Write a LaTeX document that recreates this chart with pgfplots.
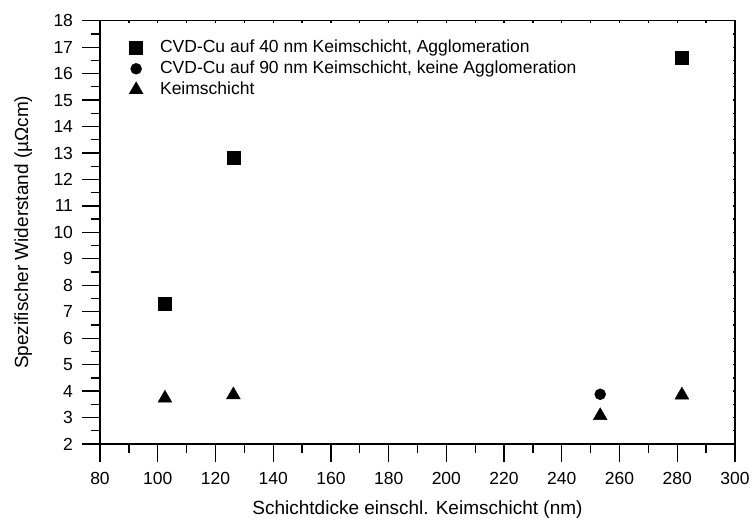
\documentclass[border=0pt]{standalone}
\usepackage{fontspec}
\setmainfont{Liberation Sans}
\usepackage{pgfplots}
\pgfplotsset{compat=1.18}

\begin{document}
\begin{tikzpicture}
\pgfplotsset{
  common/.style={
    scale only axis, width=635bp, height=423.3bp,
    xmin=80, xmax=300, ymin=2, ymax=18,
    xtick={80,100,...,300}, ytick={2,3,...,18},
    minor x tick num=1, minor y tick num=1,
    axis line style={line width=1.3bp, black},
    tick style={line width=1.3bp, black},
  },
}
% main axis: outward ticks with labels on the left and bottom
\begin{axis}[common, name=ax,
  tick pos=left, tick align=outside,
  major tick length=18bp, minor tick length=9bp,
  /pgf/number format/assume math mode=true,
  tick label style={font=\fontsize{17.5bp}{20bp}\selectfont},
  yticklabel style={xshift=-5.5bp},
  xticklabel style={yshift=-7bp},
  label style={font=\fontsize{19bp}{22bp}\selectfont},
  xlabel={Schichtdicke einschl. Keimschicht (nm)},
  ylabel={Spezifischer Widerstand (µΩcm)},
  xlabel style={at={(axis description cs:0.5,-0.154)}, anchor=center},
  ylabel style={at={(axis description cs:-0.121,0.5)}, anchor=center},
  legend style={draw=none, fill=none, at={(axis description cs:0.041,0.966)},
    anchor=north west, font=\fontsize{17.5bp}{20bp}\selectfont,
    nodes={inner sep=2bp, text height=13bp, text depth=4bp},
    /tikz/every odd column/.append style={column sep=15bp}},
  legend cell align=left,
]
\addplot[only marks, mark=square*, mark size=6.5bp, black]
  coordinates {(102.5,7.32) (126.2,12.84) (281.6,16.62)};
\addlegendentry{CVD-Cu auf 40 nm Keimschicht, Agglomeration}
\addplot[only marks, mark=*, mark size=5.5bp, black]
  coordinates {(253.3,3.88)};
\addlegendentry{CVD-Cu auf 90 nm Keimschicht, keine Agglomeration}
\addplot[only marks, mark=triangle*, mark size=8bp, black]
  coordinates {(102.5,3.73) (126.2,3.855) (253.3,3.07) (281.6,3.85)};
\addlegendentry{Keimschicht}
\end{axis}
% mirrored tiny inward ticks on the top and right
\begin{axis}[common,
  tick pos=right, tick align=inside,
  major tick length=2.5bp, minor tick length=2.5bp,
  xticklabels={}, yticklabels={},
]
\end{axis}
\path (ax.south west) ++(-100bp,-80bp) rectangle ([shift={(19bp,20.7bp)}]ax.north east);
\end{tikzpicture}
\end{document}
